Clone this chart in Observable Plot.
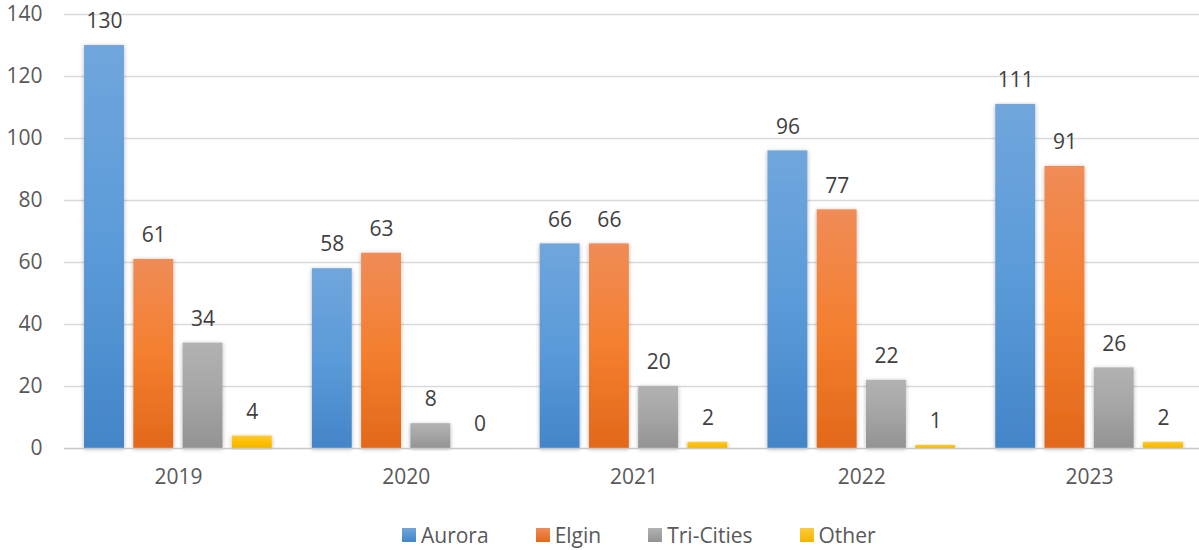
<!DOCTYPE html>
<html>
<head>
<meta charset="utf-8">
<script src="https://cdn.jsdelivr.net/npm/d3@7"></script>
<script src="https://cdn.jsdelivr.net/npm/@observablehq/plot@0.6"></script>
<style>
  html, body { margin: 0; padding: 0; background: #fff; }
  body { width: 1199px; height: 550px; overflow: hidden; position: relative; font-family: "Open Sans", sans-serif; }
  #chart { position: absolute; left: 0; top: 0; }
  #legend { position: absolute; left: 402px; top: 521px; display: flex; align-items: center; gap: 47px; font-size: 21px; color: #595959; }
  .item { display: flex; align-items: center; gap: 5px; }
  .sw { width: 14px; height: 14px; display: inline-block; }
</style>
</head>
<body>
<div id="chart"></div>
<div id="legend"></div>
<script>
const years = ["2019", "2020", "2021", "2022", "2023"];
const series = ["Aurora", "Elgin", "Tri-Cities", "Other"];
const aurora = [130, 58, 66, 96, 111];
const elgin = [61, 63, 66, 77, 91];
const triCities = [34, 8, 20, 22, 26];
const other = [4, 0, 2, 1, 2];
const yTicks = [0, 20, 40, 60, 80, 100, 120, 140];
const gradients = [
  ["#70a6dc", "#5b9bd9", "#4385c8"],
  ["#f08c57", "#f47f2f", "#e2681a"],
  ["#b2b2b2", "#a5a5a5", "#939393"],
  ["#ffca3a", "#ffc000", "#f2b600"]
];

const seriesValues = [aurora, elgin, triCities, other];
const data = years.flatMap((yr, i) => series.map((s, j) => ({year: yr, series: s, value: seriesValues[j][i]})));
const fillUrls = series.map((s, j) => `url(#grad${j})`);

const chart = Plot.plot({
  width: 1203,
  height: 500,
  marginTop: 14,
  marginBottom: 52,
  marginLeft: 64,
  marginRight: 0,
  style: {fontFamily: "'Open Sans', sans-serif", fontSize: "21px", color: "#595959", background: "#fff", overflow: "visible", maxWidth: "none"},
  fx: {domain: years, padding: 0, label: null, round: false},
  x: {domain: series, paddingInner: 0.19, paddingOuter: 0.407, axis: null, round: false},
  y: {domain: [0, 140], label: null},
  color: {type: "ordinal", domain: series, range: fillUrls},
  marks: [
    Plot.ruleY(yTicks.filter(d => d > 0), {stroke: "#d9d9d9", strokeWidth: 1.5}),
    Plot.axisY(yTicks, {tickSize: 0, tickPadding: 22, label: null, fill: "#595959", fontSize: 21}),
    Plot.axisFx({anchor: "bottom", tickSize: 0, tickPadding: 21, label: null, fill: "#595959", fontSize: 21}),
    Plot.barY(data, {fx: "year", x: "series", y: "value", fill: "series"}),
    Plot.ruleY([0], {stroke: "#c8c8c8", strokeWidth: 1.5}),
    Plot.text(data, {fx: "year", x: "series", y: "value", text: d => String(d.value), dy: -24, fill: "#404040", fontSize: 21})
  ]
});

// gradient + shadow defs
const svgNS = "http://www.w3.org/2000/svg";
const svg = chart.tagName.toLowerCase() === "svg" ? chart : chart.querySelector("svg");
svg.style.maxWidth = "none";
const defs = document.createElementNS(svgNS, "defs");
gradients.forEach((stops, j) => {
  const lg = document.createElementNS(svgNS, "linearGradient");
  lg.setAttribute("id", `grad${j}`);
  lg.setAttribute("x1", "0"); lg.setAttribute("y1", "0");
  lg.setAttribute("x2", "0"); lg.setAttribute("y2", "1");
  lg.setAttribute("gradientUnits", "objectBoundingBox");
  stops.forEach((c, k) => {
    const st = document.createElementNS(svgNS, "stop");
    st.setAttribute("offset", `${k * 50}%`);
    st.setAttribute("stop-color", c);
    lg.appendChild(st);
  });
  defs.appendChild(lg);
});
const filter = document.createElementNS(svgNS, "filter");
filter.setAttribute("id", "barShadow");
filter.setAttribute("x", "-30%"); filter.setAttribute("y", "-10%");
filter.setAttribute("width", "160%"); filter.setAttribute("height", "120%");
const ds = document.createElementNS(svgNS, "feDropShadow");
ds.setAttribute("dx", "0"); ds.setAttribute("dy", "1");
ds.setAttribute("stdDeviation", "2"); ds.setAttribute("flood-color", "#000");
ds.setAttribute("flood-opacity", "0.3");
filter.appendChild(ds);
defs.appendChild(filter);
svg.insertBefore(defs, svg.firstChild);
svg.querySelectorAll('g[aria-label="bar"] rect').forEach(r => r.setAttribute("filter", "url(#barShadow)"));

document.getElementById("chart").appendChild(chart);

// legend
const legend = document.getElementById("legend");
series.forEach((s, j) => {
  const item = document.createElement("div");
  item.className = "item";
  const sw = document.createElement("span");
  sw.className = "sw";
  sw.style.background = `linear-gradient(${gradients[j][0]}, ${gradients[j][2]})`;
  const label = document.createElement("span");
  label.textContent = s;
  item.appendChild(sw);
  item.appendChild(label);
  legend.appendChild(item);
});
</script>
</body>
</html>
